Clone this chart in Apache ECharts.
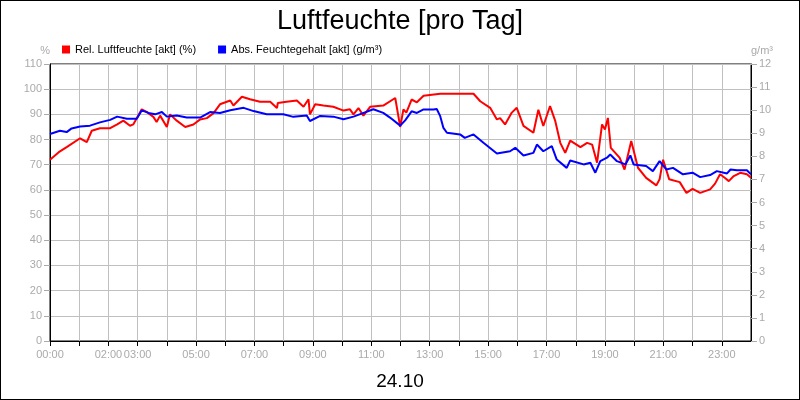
<!DOCTYPE html>
<html><head><meta charset="utf-8">
<script src="https://cdn.jsdelivr.net/npm/echarts@6/dist/echarts.min.js"></script>
<style>html,body{margin:0;padding:0}#c{width:798px;height:398px;border:1px solid #000}</style>
</head><body><div id="c"></div>
<script>
var relHours=[0,0.3,0.57,1.03,1.26,1.43,1.71,2.06,2.3,2.51,2.74,2.85,3.14,3.31,3.54,3.65,3.77,4.0,4.11,4.34,4.63,4.91,5.14,5.37,5.6,5.82,6.17,6.28,6.57,6.85,7.19,7.54,7.77,7.8,8.1,8.45,8.68,8.85,8.9,9.08,9.36,9.7,10.05,10.27,10.39,10.56,10.73,10.96,11.41,11.82,11.99,12.1,12.2,12.38,12.56,12.79,13.36,14.5,14.73,15.07,15.3,15.41,15.58,15.81,15.98,16.21,16.55,16.72,16.89,17.12,17.3,17.47,17.64,17.81,18.16,18.39,18.56,18.73,18.9,19.0,19.1,19.2,19.5,19.67,19.9,20.13,20.41,20.76,20.87,20.99,21.2,21.56,21.79,22.0,22.26,22.6,22.77,22.94,23.1,23.24,23.41,23.63,23.86,24];
var relValues=[72,75,77,80.5,79,83.5,84.5,84.5,86,87.5,85.5,86,92,91,89,87,89.5,85,90,87.5,85,86,88,88.5,90.5,94,95.5,93.5,97,96,95,95,92.5,94.5,95,95.5,93,96,90,94,93.5,93,91.5,92,90,92.5,89.5,93,93.5,96.5,85,92,90.7,95.9,94.8,97.4,98.2,98.2,95.2,92.6,88,88.5,86,90.7,92.6,85.4,82.7,91.8,85.4,93.3,87.3,78.7,74.7,79.6,77,78.7,78,70.8,86,84,88.6,76.7,72.8,68.1,79.4,68.8,64.8,61.8,64.2,72,64.2,63.1,58.8,60.4,58.8,60.2,62.5,66.2,64.8,63.5,65.5,66.8,66.2,64.8];
var absHours=[0,0.34,0.57,0.74,1.03,1.37,1.71,2.06,2.3,2.63,2.97,3.14,3.37,3.6,3.83,4.0,4.34,4.68,5.14,5.48,5.82,6.17,6.63,6.97,7.42,7.99,8.33,8.79,8.9,9.25,9.7,10.05,10.39,10.67,11.07,11.41,11.64,11.99,12.16,12.38,12.56,12.79,13.13,13.24,13.36,13.47,13.59,14.04,14.2,14.5,14.84,15.3,15.75,15.93,16.21,16.55,16.67,16.89,17.18,17.35,17.69,17.81,18.27,18.5,18.67,18.84,19.07,19.18,19.41,19.7,19.87,19.98,20.41,20.64,20.87,21.1,21.33,21.67,22.0,22.26,22.6,22.83,23.18,23.3,23.52,23.86,24];
var absValues=[8.97,9.11,9.05,9.21,9.29,9.33,9.47,9.58,9.72,9.63,9.63,9.99,9.88,9.82,9.92,9.72,9.77,9.68,9.68,9.92,9.88,10.0,10.1,9.96,9.82,9.82,9.71,9.77,9.53,9.75,9.72,9.61,9.72,9.85,10.04,9.88,9.68,9.33,9.56,9.95,9.88,10.03,10.03,10.05,9.74,9.23,9.02,8.95,8.8,8.95,8.59,8.12,8.22,8.37,8.04,8.15,8.51,8.22,8.44,7.86,7.5,7.82,7.65,7.72,7.29,7.79,7.94,8.08,7.79,7.65,8.04,7.65,7.58,7.36,7.79,7.43,7.5,7.22,7.29,7.1,7.19,7.36,7.26,7.43,7.4,7.4,7.22];
var shownHours=[0,2,3,5,7,9,11,13,15,17,19,21,23];
function pair(h,v){return h.map(function(x,i){return [x,v[i]];});}
var gray='#aaa';
var chart=echarts.init(document.getElementById('c'));
chart.setOption({
  animation:false,
  title:[{text:'Luftfeuchte [pro Tag]',left:'center',top:2,textStyle:{fontFamily:'Liberation Sans',fontSize:27,fontWeight:'normal',color:'#000'}},
         {text:'24.10',left:'center',top:366,textStyle:{fontFamily:'Liberation Sans',fontSize:19,fontWeight:'normal',color:'#000'}}],
  legend:{left:56,top:38,itemWidth:8,itemHeight:8,itemGap:22,icon:'rect',textStyle:{fontFamily:'Liberation Sans',fontSize:11,color:'#000'},
    data:['Rel. Luftfeuchte [akt] (%)','Abs. Feuchtegehalt [akt] (g/m³)']},
  grid:{left:49,right:48,top:63,bottom:58,show:true,borderColor:'#000',borderWidth:1},
  xAxis:{type:'value',min:0,max:24,interval:1,
    axisLine:{lineStyle:{color:'#000'}},axisTick:{length:5,lineStyle:{color:'#000'}},
    splitLine:{lineStyle:{color:'#c0c0c0'}},
    axisLabel:{color:gray,fontFamily:'Liberation Sans',fontSize:11,showMaxLabel:false,
      formatter:function(v){if(shownHours.indexOf(v)<0)return '';return (v<10?'0':'')+v+':00';}}},
  yAxis:[{type:'value',min:0,max:110,interval:10,name:'%',nameGap:8,nameTextStyle:{color:gray,fontFamily:'Liberation Sans',fontSize:11,align:'right'},
    axisLine:{show:true,lineStyle:{color:'#000'}},axisTick:{show:true,length:6,lineStyle:{color:gray}},
    splitLine:{lineStyle:{color:'#c0c0c0'}},axisLabel:{color:gray,fontFamily:'Liberation Sans',fontSize:11}},
    {type:'value',min:0,max:12,interval:1,position:'right',name:'g/m³',nameGap:8,nameTextStyle:{color:gray,fontFamily:'Liberation Sans',fontSize:11,align:'left'},
    axisLine:{show:true,lineStyle:{color:'#000'}},axisTick:{show:true,length:6,lineStyle:{color:gray}},
    splitLine:{show:false},axisLabel:{color:gray,fontFamily:'Liberation Sans',fontSize:11}}],
  series:[{name:'Rel. Luftfeuchte [akt] (%)',type:'line',yAxisIndex:0,data:pair(relHours,relValues),showSymbol:false,color:'#ff0000',lineStyle:{width:2}},
          {name:'Abs. Feuchtegehalt [akt] (g/m³)',type:'line',yAxisIndex:1,data:pair(absHours,absValues),showSymbol:false,color:'#0000ff',lineStyle:{width:2}}]
});
</script></body></html>
